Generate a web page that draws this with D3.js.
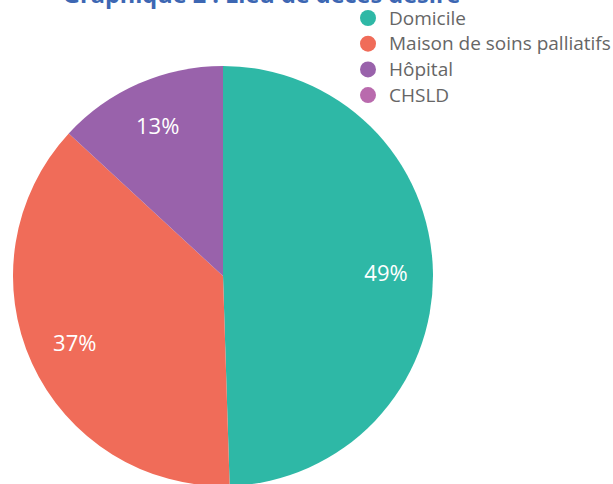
<!DOCTYPE html>
<html>
<head>
<meta charset="utf-8">
<script src="https://cdn.jsdelivr.net/npm/d3@7"></script>
<style>
  body { margin: 0; background: #fff; overflow: hidden; }
  svg { display: block; font-family: 'Open Sans', sans-serif; }
</style>
</head>
<body>
<div id="chart"></div>
<script>
// data
let categories = ['Domicile', 'Maison de soins palliatifs', 'Hôpital', 'CHSLD']
let values = [49, 37, 13, 0]
let colors = ['#2eb8a6', '#f06c59', '#9962ab', '#b96aad']
let title = 'Graphique 2 : Lieu de décès désiré'

let width = 613
let height = 484
let cx = 223
let cy = 276
let radius = 210

let svg = d3
  .select('#chart')
  .append('svg')
  .attr('width', width)
  .attr('height', height)

svg
  .append('text')
  .attr('x', 63)
  .attr('y', 3)
  .attr('fill', '#3d67b3')
  .style('font-size', '23.5px')
  .style('font-weight', 'bold')
  .text(title)

let total = d3.sum(values)
let pie = d3.pie().sort(null).value(d => d)
let arcs = pie(values)
let arc = d3.arc().innerRadius(0).outerRadius(radius)
let labelArc = d3.arc().innerRadius(163).outerRadius(163)

let pieG = svg.append('g').attr('transform', 'translate(' + cx + ',' + cy + ')')

pieG
  .selectAll('path.slice')
  .data(arcs)
  .enter()
  .append('path')
  .attr('class', 'slice')
  .attr('d', arc)
  .attr('fill', (d, i) => colors[i])

pieG
  .selectAll('text.pct')
  .data(arcs.filter(d => d.value > 0))
  .enter()
  .append('text')
  .attr('class', 'pct')
  .attr('transform', d => 'translate(' + labelArc.centroid(d) + ')')
  .attr('dy', '.35em')
  .attr('text-anchor', 'middle')
  .attr('fill', '#fff')
  .style('font-size', '22px')
  .text(d => Math.round(d.value / total * 100) + '%')

// legend
let legend = svg
  .append('g')
  .selectAll('g.leg')
  .data(categories)
  .enter()
  .append('g')
  .attr('class', 'leg')
  .attr('transform', (d, i) => 'translate(368,' + (18 + i * 25.7) + ')')

legend
  .append('circle')
  .attr('r', 8)
  .attr('fill', (d, i) => colors[i])

legend
  .append('text')
  .attr('x', 21)
  .attr('dy', '.35em')
  .attr('fill', '#666')
  .style('font-size', '19px')
  .text(d => d)
</script>
</body>
</html>
